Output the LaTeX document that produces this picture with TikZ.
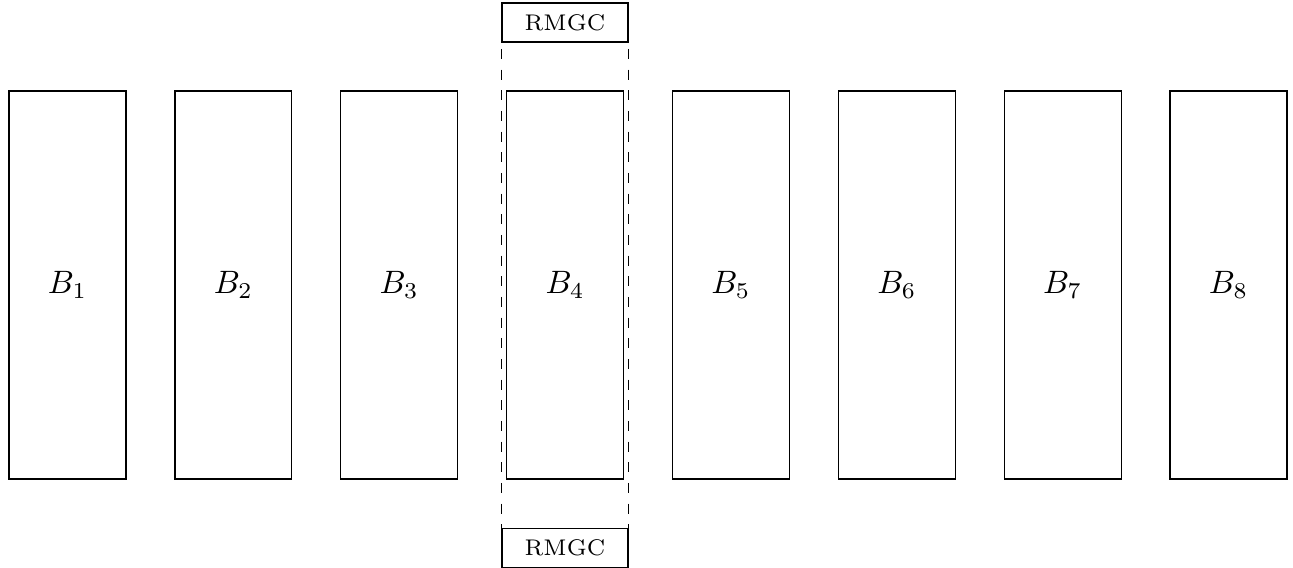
\documentclass[tikz,border=0pt]{standalone}
\begin{document}
\begin{tikzpicture}[x=0.525pt, y=-0.525pt,
  block/.style={draw, line width=0.68pt, rectangle, inner sep=0pt,
    minimum width=61.4pt, minimum height=203.7pt},
  tag/.style={draw, line width=0.68pt, rectangle, inner sep=0pt,
    minimum width=66.2pt, minimum height=20.5pt},
  region/.style={line width=0.68pt, dash pattern=on 5.2pt off 5.65pt,
    dash phase=7.56pt}]
  \useasboundingbox (0,0) rectangle (1293,568);
  % eight blocks in a row
  \foreach \i in {1,...,8} {
    \node[block] (b\i) at ({67.5+165.86*(\i-1)}, 285)
      {\scalebox{1.7}{$B_{\i}$}};
  }
  % RMGC markers around block 4
  \node[tag] (top) at (565, 22.5) {\scalebox{1.7}{\scriptsize RMGC}};
  \node[tag] (bot) at (565, 548) {\scalebox{1.7}{\scriptsize RMGC}};
  \draw[region] (top.south west) -- (bot.north west);
  \draw[region] (top.south east) -- (bot.north east);
\end{tikzpicture}
\end{document}
